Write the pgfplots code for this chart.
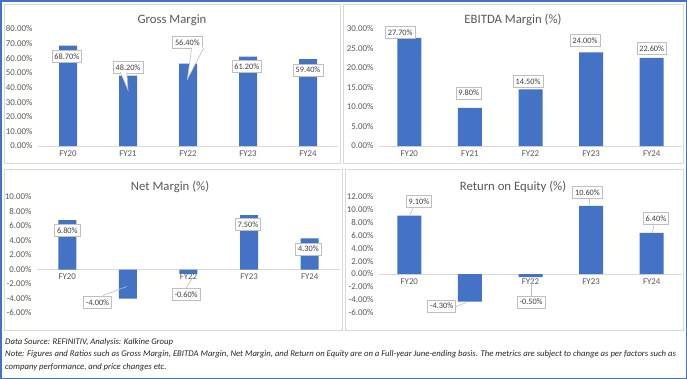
\documentclass[border=0pt]{standalone}
\usepackage{pgfplots}
\pgfplotsset{compat=1.18}
\usepackage{fontspec}
\setmainfont{Carlito}
\definecolor{barc}{HTML}{4472C4}
\definecolor{framec}{HTML}{4472C4}
\definecolor{gridc}{HTML}{D9D9D9}
\definecolor{txtc}{HTML}{595959}
\definecolor{lblc}{HTML}{404040}
\definecolor{lblb}{HTML}{BFBFBF}
\pgfplotsset{
 panel/.style={
  scale only axis, clip=false,
  ybar, bar shift=0pt,
  xmin=-0.5, xmax=4.5, enlargelimits=false,
  xtick={0,...,4}, xticklabels={FY20,FY21,FY22,FY23,FY24},
  axis x line*=middle, axis y line*=left,
  x axis line style={draw=gridc, line width=0.8pt, -},
  y axis line style={draw=none},
  major tick length=0pt,
  tick label style={font=\fontsize{8.9}{10}\selectfont, text=txtc},
  xticklabel style={yshift=-1bp},
  yticklabel style={xshift=-2bp},
  /pgf/number format/assume math mode=true,
  yticklabel={\pgfmathprintnumber[fixed,fixed zerofill,precision=2]{\tick}\%},
 },
}
\tikzset{
 lab/.style={draw=lblb, fill=white, text=lblc, font=\fontsize{8.3}{9}\selectfont,
  inner xsep=2.5bp, inner ysep=3bp, text height=6bp, text depth=0bp, line width=0.6pt},
 lead/.style={draw=lblb, line width=0.6pt},
}
\begin{document}
\begin{tikzpicture}
\fill[white] (0bp,0bp) rectangle (687bp,-379bp);
\draw[framec, line width=1.5bp] (0.75bp,-0.75bp) rectangle (686.25bp,-378.25bp);
\draw[gridc, line width=0.8pt] (4bp,-4bp) rectangle (340bp,-163bp);
\draw[gridc, line width=0.8pt] (343bp,-4bp) rectangle (683bp,-163bp);
\draw[gridc, line width=0.8pt] (4bp,-169bp) rectangle (342bp,-330bp);
\draw[gridc, line width=0.8pt] (345bp,-169bp) rectangle (683bp,-330bp);

\node[font=\fontsize{12.8}{14}\selectfont, text=txtc] at (172bp,-20bp) {Gross Margin};
\node[font=\fontsize{12.8}{14}\selectfont, text=txtc] at (513bp,-20bp) {EBITDA Margin (\%)};
\node[font=\fontsize{12.8}{14}\selectfont, text=txtc] at (170bp,-187bp) {Net Margin (\%)};
\node[font=\fontsize{12.8}{14}\selectfont, text=txtc] at (513bp,-187bp) {Return on Equity (\%)};

% Gross Margin
\begin{axis}[panel, at={(38bp,-146bp)}, anchor=south west, width=300bp, height=117bp,
  ymin=0, ymax=80, ytick={0,10,...,80}]
\addplot[fill=barc, draw=none, bar width=18bp] coordinates {(0,68.7) (1,48.2) (2,56.4) (3,61.2) (4,59.4)};
\node[lab] at (axis cs:-0.02,61.5) {68.70\%};
\node[lab] at (axis cs:1.0,53.7) {48.20\%};
\fill[white] (axis cs:0.87,51.0) -- (axis cs:1.0,38.3) -- (axis cs:0.98,51.0) -- cycle;
\draw[lead] (axis cs:0.87,50.6) -- (axis cs:1.0,38.3) -- (axis cs:0.98,50.6);
\node[lab] at (axis cs:1.99,70.8) {56.40\%};
\fill[white] (axis cs:2.06,67.4) -- (axis cs:1.99,45.6) -- (axis cs:2.26,67.4) -- cycle;
\draw[lead] (axis cs:2.06,67.0) -- (axis cs:1.99,45.6) -- (axis cs:2.26,67.0);
\node[lab] at (axis cs:2.98,54.4) {61.20\%};
\node[lab] at (axis cs:4.0,52.0) {59.40\%};
\end{axis}

% EBITDA
\begin{axis}[panel, at={(379bp,-146bp)}, anchor=south west, width=303bp, height=117bp,
  ymin=0, ymax=30, ytick={0,5,...,30}]
\addplot[fill=barc, draw=none, bar width=24bp] coordinates {(0,27.7) (1,9.8) (2,14.5) (3,24.0) (4,22.6)};
\node[lab] at (axis cs:-0.15,29.2) {27.70\%};
\node[lab] at (axis cs:0.98,13.6) {9.80\%};
\node[lab] at (axis cs:1.96,16.5) {14.50\%};
\node[lab] at (axis cs:2.90,27.05) {24.00\%};
\node[lab] at (axis cs:4.0,25.1) {22.60\%};
\end{axis}

% Net Margin
\begin{axis}[panel, at={(37bp,-313bp)}, anchor=south west, width=303bp, height=116bp,
  ymin=-6, ymax=10, ytick={-6,-4,...,10}]
\addplot[fill=barc, draw=none, bar width=18bp] coordinates {(0,6.8) (1,-4.0) (2,-0.6) (3,7.5) (4,4.3)};
\node[lab] at (axis cs:0.0,5.38) {6.80\%};
\draw[lead] (axis cs:0.59,-3.59) -- (axis cs:0.985,-2.34);
\node[lab] at (axis cs:0.5,-4.55) {-4.00\%};
\draw[lead] (axis cs:1.96,-2.62) -- (axis cs:2.07,-1.1);
\node[lab] at (axis cs:1.96,-3.45) {-0.60\%};
\node[lab] at (axis cs:2.98,6.2) {7.50\%};
\node[lab] at (axis cs:3.98,2.83) {4.30\%};
\end{axis}

% ROE
\begin{axis}[panel, at={(379bp,-312.5bp)}, anchor=south west, width=303bp, height=115.5bp,
  ymin=-6, ymax=12, ytick={-6,-4,...,12}]
\addplot[fill=barc, draw=none, bar width=24bp] coordinates {(0,9.1) (1,-4.3) (2,-0.5) (3,10.6) (4,6.4)};
\draw[lead] (axis cs:0.01,9.19) -- (axis cs:0.07,10.44);
\node[lab] at (axis cs:0.16,11.29) {9.10\%};
\draw[lead] (axis cs:0.77,-5.09) -- (axis cs:0.95,-4.41);
\node[lab] at (axis cs:0.535,-4.98) {-4.30\%};
\draw[lead] (axis cs:2.01,-3.58) -- (axis cs:2.01,-1.45);
\node[lab] at (axis cs:2.01,-4.36) {-0.50\%};
\draw[lead] (axis cs:2.97,11.84) -- (axis cs:2.98,10.6);
\node[lab] at (axis cs:2.94,12.69) {10.60\%};
\draw[lead] (axis cs:4.04,7.79) -- (axis cs:4.01,6.4);
\node[lab] at (axis cs:4.07,8.64) {6.40\%};
\end{axis}

\begin{scope}[every node/.style={anchor=base west, inner sep=0pt, font=\fontsize{8.72}{10}\selectfont\itshape, text=black!85}]
\node at (5bp,-344bp) {Data Source: REFINITIV, Analysis: Kalkine Group};
\node at (5bp,-356.5bp) {Note: Figures and Ratios such as Gross Margin, EBITDA Margin, Net Margin, and Return on Equity are on a Full-year June-ending basis. The metrics are subject to change as per factors such as};
\node at (5bp,-369bp) {company performance, and price changes etc.};
\end{scope}
\end{tikzpicture}
\end{document}
